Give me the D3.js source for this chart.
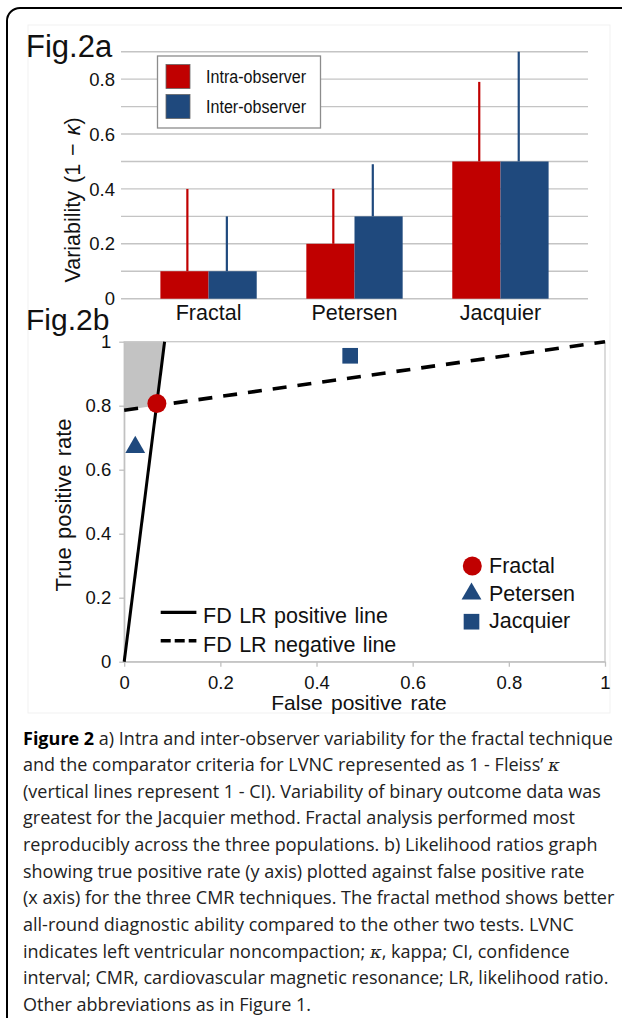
<!DOCTYPE html>
<html><head><meta charset="utf-8">
<script src="https://cdn.jsdelivr.net/npm/d3@7/dist/d3.min.js"></script>
<style>body{margin:0;background:#fff} svg{display:block}</style>
</head><body>
<svg id="c" width="622" height="1018"></svg>
<script>
// ---------- Fig.2a data ----------
const categories = ["Fractal", "Petersen", "Jacquier"];
const seriesNames = ["Intra-observer", "Inter-observer"];
const seriesColors = ["#c00000", "#1f497d"];
const intraValues = [0.1, 0.2, 0.5];
const interValues = [0.1, 0.3, 0.5];
const intraUpper = [0.4, 0.4, 0.79];
const interUpper = [0.3, 0.49, 0.9];
const barTickValues = [0, 0.2, 0.4, 0.6, 0.8];
const barTickLabels = ["0", "0.2", "0.4", "0.6", "0.8"];
const barGridValues = [0, 0.1, 0.2, 0.3, 0.4, 0.5, 0.6, 0.7, 0.8, 0.9];

// ---------- Fig.2b data ----------
const methods = ["Fractal", "Petersen", "Jacquier"];
const methodFpr = [0.068, 0.023, 0.47];
const methodTpr = [0.807, 0.670, 0.956];
const methodColors = ["#c00000", "#1f497d", "#1f497d"];
const lrPositiveLine = [[0, 0], [0.084, 1]];
const lrNegativeLine = [[0, 0.786], [1, 1]];
const lineNames = ["FD LR positive line", "FD LR negative line"];
const rocTickValues = [0, 0.2, 0.4, 0.6, 0.8, 1];
const rocTickLabels = ["0", "0.2", "0.4", "0.6", "0.8", "1"];

// ---------- caption ----------
const captionBold = "Figure 2";
const captionLines = [
  " a) Intra and inter-observer variability for the fractal technique",
  "and the comparator criteria for LVNC represented as 1 - Fleiss’ κ",
  "(vertical lines represent 1 - CI). Variability of binary outcome data was",
  "greatest for the Jacquier method. Fractal analysis performed most",
  "reproducibly across the three populations. b) Likelihood ratios graph",
  "showing true positive rate (y axis) plotted against false positive rate",
  "(x axis) for the three CMR techniques. The fractal method shows better",
  "all-round diagnostic ability compared to the other two tests. LVNC",
  "indicates left ventricular noncompaction; κ, kappa; CI, confidence",
  "interval; CMR, cardiovascular magnetic resonance; LR, likelihood ratio.",
  "Other abbreviations as in Figure 1."
];

const svg = d3.select("#c");
const SANS = "'Liberation Sans', Arial, sans-serif";

function label(g, x, y, s, o = {}) {
  let tr = `translate(${x},${y})`;
  if (o.rot) tr += ` rotate(${o.rot})`;
  if (o.sx) tr += ` scale(${o.sx},1)`;
  return g.append("text").attr("transform", tr)
    .attr("font-family", o.font || SANS)
    .attr("font-size", o.size || 18)
    .attr("text-anchor", o.anchor || "start")
    .attr("fill", o.fill || "#111")
    .text(s);
}

// frame
svg.append("rect").attr("x", 7).attr("y", 8).attr("width", 660).attr("height", 1060)
  .attr("rx", 13).attr("fill", "none").attr("stroke", "#000").attr("stroke-width", 2);
svg.append("rect").attr("x", 28).attr("y", 25).attr("width", 582).attr("height", 688)
  .attr("fill", "none").attr("stroke", "#f1f1f1").attr("stroke-width", 1);

// ================= Fig.2a =================
const gA = svg.append("g");
const yA = d3.scaleLinear().domain([0, 0.9]).range([298.7, 51.7]);
const xA = d3.scaleBand().domain(categories).range([121, 588]).paddingInner(0.34).paddingOuter(0.27);
const xSub = d3.scaleBand().domain(seriesNames).range([0, xA.bandwidth()]);

gA.append("g").selectAll("line").data(barGridValues).join("line")
  .attr("x1", 121).attr("x2", 588)
  .attr("y1", d => yA(d)).attr("y2", d => yA(d))
  .attr("stroke", "#c4c4c4").attr("stroke-width", 1.4);

gA.append("g").selectAll("text").data(barTickValues).join("text")
  .attr("x", 115).attr("y", d => yA(d)).attr("dy", "0.36em")
  .attr("text-anchor", "end").attr("font-family", SANS).attr("font-size", 18.5)
  .attr("fill", "#111").text((d, i) => barTickLabels[i]);

const seriesVals = [intraValues, interValues];
const seriesUpper = [intraUpper, interUpper];
const errOffset = [0.56, 0.38];
seriesNames.forEach((s, si) => {
  gA.append("g").selectAll("rect").data(categories).join("rect")
    .attr("x", c => xA(c) + xSub(s))
    .attr("y", (c, i) => yA(seriesVals[si][i]))
    .attr("width", xSub.bandwidth())
    .attr("height", (c, i) => yA(0) - yA(seriesVals[si][i]))
    .attr("fill", seriesColors[si]);
  gA.append("g").selectAll("line").data(categories).join("line")
    .attr("x1", c => xA(c) + xSub(s) + xSub.bandwidth() * errOffset[si])
    .attr("x2", c => xA(c) + xSub(s) + xSub.bandwidth() * errOffset[si])
    .attr("y1", (c, i) => yA(seriesVals[si][i]))
    .attr("y2", (c, i) => yA(seriesUpper[si][i]))
    .attr("stroke", seriesColors[si]).attr("stroke-width", 2.2);
});

categories.forEach(c => label(gA, xA(c) + xA.bandwidth() / 2, 320, c, { size: 21.5, anchor: "middle" }));

// y title
const yt = gA.append("text").attr("transform", "translate(80,200) rotate(-90)")
  .attr("font-family", SANS).attr("font-size", 21.5).attr("text-anchor", "middle").attr("fill", "#111")
  .attr("word-spacing", 2);
yt.append("tspan").text("Variability (1 − ");
yt.append("tspan").attr("font-style", "italic").text("κ");
yt.append("tspan").text(")");

label(gA, 26, 57, "Fig.2a", { size: 31 });

// legend
const lg = gA.append("g");
lg.append("rect").attr("x", 157.5).attr("y", 56).attr("width", 163).attr("height", 72)
  .attr("fill", "#fff").attr("stroke", "#8c8c8c").attr("stroke-width", 1.3);
seriesNames.forEach((s, i) => {
  lg.append("rect").attr("x", 166).attr("y", 64.5 + i * 30).attr("width", 24).attr("height", 24)
    .attr("fill", seriesColors[i]).attr("stroke", "#666").attr("stroke-width", 0.8);
  label(lg, 206, 82.7 + i * 30.3, s, { size: 18.5, sx: 0.87 });
});

// ================= Fig.2b =================
const gB = svg.append("g");
const xB = d3.scaleLinear().domain([0, 1]).range([124.2, 605]);
const yB = d3.scaleLinear().domain([0, 1]).range([661.7, 341.7]);

label(gB, 26, 330, "Fig.2b", { size: 30 });

// shaded region bounded by both LR lines
const sp = (lrPositiveLine[1][1] - lrPositiveLine[0][1]) / (lrPositiveLine[1][0] - lrPositiveLine[0][0]);
const sn = (lrNegativeLine[1][1] - lrNegativeLine[0][1]) / (lrNegativeLine[1][0] - lrNegativeLine[0][0]);
const ix = (lrNegativeLine[0][1] - lrPositiveLine[0][1]) / (sp - sn);
const iy = lrPositiveLine[0][1] + sp * ix;
const shade = [[0, 1], [lrPositiveLine[1][0], 1], [ix, iy], [0, lrNegativeLine[0][1]]];
gB.append("path").attr("d", d3.line().x(d => xB(d[0])).y(d => yB(d[1]))(shade) + "Z")
  .attr("fill", "#c3c3c3");

// plot border
gB.append("rect").attr("x", xB(0)).attr("y", yB(1)).attr("width", xB(1) - xB(0)).attr("height", yB(0) - yB(1))
  .attr("fill", "none").attr("stroke", "#c8c8c8").attr("stroke-width", 1.3);

const axL = gB.append("g").attr("transform", `translate(${xB(0)},0)`)
  .call(d3.axisLeft(yB).tickValues(rocTickValues).tickFormat((d, i) => rocTickLabels[i]).tickSize(5).tickSizeOuter(0).tickPadding(8));
const axB = gB.append("g").attr("transform", `translate(0,${yB(0)})`)
  .call(d3.axisBottom(xB).tickValues(rocTickValues).tickFormat((d, i) => rocTickLabels[i]).tickSize(5).tickSizeOuter(0).tickPadding(9));
[axL, axB].forEach(a => {
  a.selectAll("path,line").attr("stroke", "#c0c0c0").attr("stroke-width", 1.3);
  a.selectAll("text").attr("font-family", SANS).attr("font-size", 18.5).attr("fill", "#111");
});

// LR lines
const lineGen = d3.line().x(d => xB(d[0])).y(d => yB(d[1]));
gB.append("path").attr("d", lineGen(lrNegativeLine)).attr("fill", "none")
  .attr("stroke", "#000").attr("stroke-width", 3.6).attr("stroke-dasharray", "14,11");
gB.append("path").attr("d", lineGen(lrPositiveLine)).attr("fill", "none")
  .attr("stroke", "#000").attr("stroke-width", 3);

// points
const symbols = [d3.symbolCircle, d3.symbolTriangle, d3.symbolSquare];
const symSizes = [283, 170, 245];
gB.append("g").selectAll("path").data(methods).join("path")
  .attr("transform", (d, i) => `translate(${xB(methodFpr[i])},${yB(methodTpr[i])})`)
  .attr("d", (d, i) => d3.symbol(symbols[i], symSizes[i])())
  .attr("fill", (d, i) => methodColors[i]);

// line legend
const ll = gB.append("g");
ll.append("line").attr("x1", 160.7).attr("x2", 196.4).attr("y1", 612.3).attr("y2", 612.3)
  .attr("stroke", "#000").attr("stroke-width", 3.2);
ll.append("line").attr("x1", 160.7).attr("x2", 196.4).attr("y1", 640.7).attr("y2", 640.7)
  .attr("stroke", "#000").attr("stroke-width", 3.6).attr("stroke-dasharray", "10,4");
lineNames.forEach((s, i) => label(ll, 203, 623 + i * 28.7, s, { size: 21.5 }).attr("word-spacing", 1.5));

// marker legend
const ml = gB.append("g");
const mlY = [566, 593.9, 621.7];
methods.forEach((m, i) => {
  ml.append("path").attr("transform", `translate(${i === 0 ? 472.3 : 471.5},${mlY[i]})`)
    .attr("d", d3.symbol(symbols[i], symSizes[i])()).attr("fill", methodColors[i]);
});
const mlBase = [573.3, 601, 628.2];
methods.forEach((m, i) => label(ml, 489, mlBase[i], m, { size: 21.5 }));

// axis titles
label(gB, 71, 505, "True positive rate", { size: 22, anchor: "middle", rot: -90 }).attr("word-spacing", 2);
label(gB, 359, 710, "False positive rate", { size: 21, anchor: "middle" }).attr("word-spacing", 2.5);

// ================= caption =================
const CAP = "'Open Sans', 'Noto Sans', sans-serif";
const cg = svg.append("g");
const capX = 23, capY0 = 744.5, capStep = 26.65, capSize = 17.5;
const capTexts = captionLines.map((ln, i) => {
  const t = cg.append("text").attr("font-family", CAP).attr("font-size", capSize).attr("fill", "#222");
  if (i === 0) t.append("tspan").attr("font-weight", "bold").attr("fill", "#000").text(captionBold);
  ln.split("κ").forEach((part, k) => {
    if (k > 0) t.append("tspan").attr("font-style", "italic").attr("font-family", "'DejaVu Serif', serif").text("κ");
    t.append("tspan").text(part);
  });
  t.attr("transform", `translate(${capX},${capY0 + i * capStep})`);
  return t;
});
const w0 = capTexts[0].node().getComputedTextLength();
const sxc = 590 / w0;
capTexts.forEach((t, i) => t.attr("transform", `translate(${capX},${capY0 + i * capStep}) scale(${sxc},1)`));
</script>
</body></html>
